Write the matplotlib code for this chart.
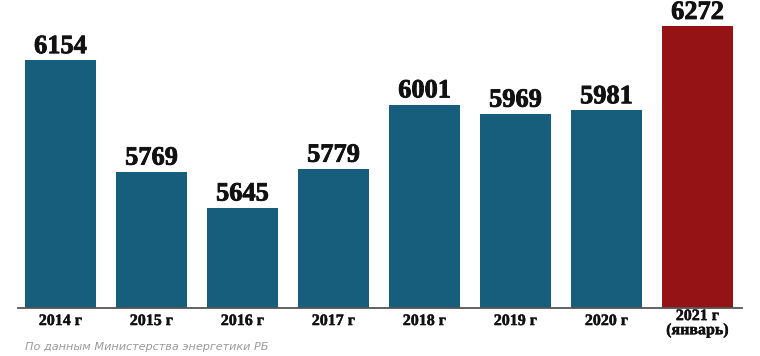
import matplotlib
matplotlib.use("Agg")
import matplotlib.pyplot as plt
import matplotlib.patheffects as pe

years = ["2014 г", "2015 г", "2016 г", "2017 г", "2018 г", "2019 г", "2020 г", "2021 г\n(январь)"]
values = [6154, 5769, 5645, 5779, 6001, 5969, 5981, 6272]
colors = ["#175e7c"] * 7 + ["#961315"]

W, H = 760, 356
fig = plt.figure(figsize=(W / 100, H / 100), dpi=100)
# axes box in pixels: left 18, right 742, baseline at y=307.5 from top
ax = fig.add_axes([18 / W, (H - 307.5) / H, 724 / W, 307.5 / H])

x = list(range(len(values)))
ax.bar(x, values, width=0.78, color=colors, bottom=0)
ax.set_xlim(-0.467, 7.489)
ax.set_ylim(5300, 6362)

heavy = [pe.withStroke(linewidth=0.6, foreground="#111111")]
for xi, v in zip(x, values):
    ax.annotate(str(v), (xi, v), xytext=(0, 1.5), textcoords="offset points",
                ha="center", va="bottom", fontsize=19, fontweight="bold",
                family="Liberation Serif", color="#111111", path_effects=heavy)

tr = ax.get_xaxis_transform()
heavy2 = [pe.withStroke(linewidth=0.3, foreground="#111111")]
for xi, lab in zip(x, years):
    yy = -0.044 if "\n" not in lab else -0.051
    ax.text(xi, yy, lab, transform=tr, ha="center", va="center",
            fontsize=11.5, fontweight="bold", family="Liberation Serif",
            color="#111111", linespacing=0.85, path_effects=heavy2)

for s in ["top", "right", "left"]:
    ax.spines[s].set_visible(False)
ax.spines["bottom"].set_color("#555555")
ax.spines["bottom"].set_linewidth(1.3)
ax.set_xticks([])
ax.set_yticks([])

fig.text(25 / W, 1 - 347 / H, "По данным Министерства энергетики РБ",
         fontsize=8.1, style="italic", color="#9a9a9a", va="center", ha="left")

fig.savefig("out.png", dpi=100)
